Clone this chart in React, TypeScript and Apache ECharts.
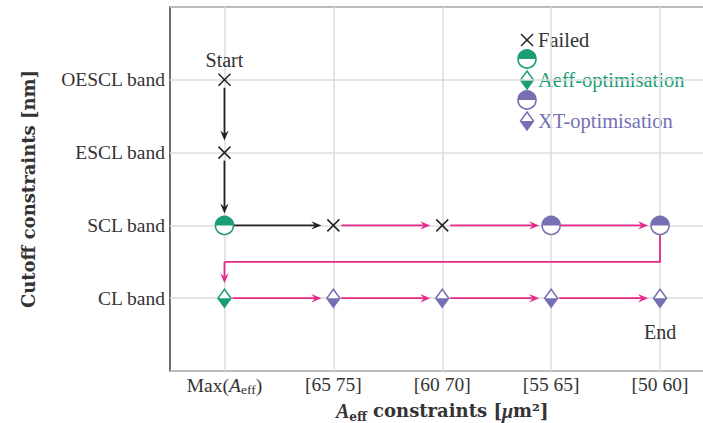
import React, { useEffect, useRef } from "react";
import * as echarts from "echarts";

// ---------- data ----------
const xCategories = ["{n|Max(}{i|A}{s|eff}{n|)}", "[65 75]", "[60 70]", "[55 65]", "[50 60]"];
const xPositions = [0, 1, 2, 3, 4];
const yBands = ["CL band", "SCL band", "ESCL band", "OESCL band"];
const yPositions = [1, 2, 3, 4];

const failedPoints = [[0, 4], [0, 3], [1, 2], [2, 2]];
const aeffCircles = [[0, 2]];
const aeffDiamonds = [[0, 1]];
const xtCircles = [[3, 2], [4, 2]];
const xtDiamonds = [[1, 1], [2, 1], [3, 1], [4, 1]];

const blackArrows = [[0, 4, 0, 3], [0, 3, 0, 2], [0, 2, 1, 2]];
const pinkArrows = [
  [1, 2, 2, 2], [2, 2, 3, 2], [3, 2, 4, 2],
  [0, 1, 1, 1], [1, 1, 2, 1], [2, 1, 3, 1], [3, 1, 4, 1],
];
const pinkReturnPath = [[4, 2], [4, 1.5], [0, 1.5], [0, 1]];

const annotations = [[0, 4, "Start"], [4, 1, "End"]];

const legendItems = ["Failed", "Aeff-optimisation", "XT-optimisation"];

// ---------- styles ----------
const GREEN = "#1b9e77";
const PURPLE = "#7570b3";
const PINK = "#e7298a";
const BLACK = "#222222";
const TEXT = "#333333";
const FONT = "'Liberation Serif', serif";
const NAME_FONT = "'DejaVu Serif', serif";
const FS = 19.5;

function arrowShape(p1: number[], p2: number[], startGap: number, endGap: number, color: string) {
  const dx = p2[0] - p1[0];
  const dy = p2[1] - p1[1];
  const len = Math.sqrt(dx * dx + dy * dy) || 1;
  const ux = dx / len, uy = dy / len;
  const nx = -uy, ny = ux;
  const s = [p1[0] + ux * startGap, p1[1] + uy * startGap];
  const t = [p2[0] - ux * endGap, p2[1] - uy * endGap];
  const L = 10, W = 4.2, notch = 6.5;
  return [
    {
      type: "line",
      shape: { x1: s[0], y1: s[1], x2: t[0] - ux * notch, y2: t[1] - uy * notch },
      style: { stroke: color, lineWidth: 1.8 },
    },
    {
      type: "polygon",
      shape: {
        points: [
          [t[0], t[1]],
          [t[0] - ux * L + nx * W, t[1] - uy * L + ny * W],
          [t[0] - ux * notch, t[1] - uy * notch],
          [t[0] - ux * L - nx * W, t[1] - uy * L - ny * W],
        ],
      },
      style: { fill: color },
    },
  ];
}

function halfCircle(cx: number, cy: number, color: string) {
  const r = 9;
  return [
    { type: "circle", shape: { cx, cy, r }, style: { fill: "#ffffff" } },
    { type: "sector", shape: { cx, cy, r0: 0, r, startAngle: Math.PI, endAngle: Math.PI * 2, clockwise: true }, style: { fill: color } },
    { type: "circle", shape: { cx, cy, r }, style: { fill: "none", stroke: color, lineWidth: 1.6 } },
  ];
}

function diamond(cx: number, cy: number, color: string) {
  const w = 6.5, h = 9;
  return [
    { type: "polygon", shape: { points: [[cx, cy - h], [cx + w, cy], [cx, cy + h], [cx - w, cy]] }, style: { fill: "#ffffff" } },
    { type: "polygon", shape: { points: [[cx - w, cy], [cx + w, cy], [cx, cy + h]] }, style: { fill: color } },
    { type: "polygon", shape: { points: [[cx, cy - h], [cx + w, cy], [cx, cy + h], [cx - w, cy]] }, style: { fill: "none", stroke: color, lineWidth: 1.5 } },
  ];
}

function cross(cx: number, cy: number, color: string) {
  const a = 6;
  return [
    { type: "line", shape: { x1: cx - a, y1: cy - a, x2: cx + a, y2: cy + a }, style: { stroke: color, lineWidth: 1.5 } },
    { type: "line", shape: { x1: cx - a, y1: cy + a, x2: cx + a, y2: cy - a }, style: { stroke: color, lineWidth: 1.5 } },
  ];
}

function markerSeries(data: number[][], kind: string, color: string) {
  return {
    type: "custom",
    coordinateSystem: "cartesian2d",
    data,
    z: 5,
    renderItem: (params: any, api: any) => {
      const p = api.coord([api.value(0), api.value(1)]);
      let children: any[];
      if (kind === "circle") children = halfCircle(p[0], p[1], color);
      else if (kind === "diamond") children = diamond(p[0], p[1], color);
      else children = cross(p[0], p[1], color);
      return { type: "group", children };
    },
  };
}

function arrowSeries(data: number[][], color: string) {
  return {
    type: "custom",
    coordinateSystem: "cartesian2d",
    data,
    z: 3,
    renderItem: (params: any, api: any) => {
      const p1 = api.coord([api.value(0), api.value(1)]);
      const p2 = api.coord([api.value(2), api.value(3)]);
      return { type: "group", children: arrowShape(p1, p2, 8, 12, color) };
    },
  };
}

export default function App() {
  const ref = useRef<HTMLDivElement>(null);
  useEffect(() => {
    if (!ref.current) return;
    const chart = echarts.init(ref.current, null, { renderer: "svg" });

    const legendX = 527;
    const legendTextX = 538;
    const legendYs = [40, 59, 80, 100, 121];
    const LFS = 20.5;

    const option: any = {
      animation: false,
      backgroundColor: "#ffffff",
      grid: {
        left: 170,
        top: 7,
        bottom: 52,
        right: -11.5,
        outerBoundsMode: "none",
        containLabel: false,
        show: true,
        borderColor: BLACK,
        borderWidth: 1.3,
        backgroundColor: "transparent",
      },
      xAxis: {
        type: "value",
        min: -0.5,
        max: 4.5,
        name: "{i|A}{s|eff}{b| constraints [}{i|μ}{b|m²]}",
        nameLocation: "middle",
        nameGap: 27,
        nameTextStyle: {
          fontFamily: NAME_FONT,
          fontSize: 18,
          fontWeight: "bold",
          color: TEXT,
          rich: {
            b: { fontFamily: NAME_FONT, fontSize: 18, fontWeight: "bold", color: TEXT, lineHeight: 24 },
            i: { fontFamily: FONT, fontSize: 20, fontStyle: "italic", color: TEXT, lineHeight: 24 },
            s: { fontFamily: NAME_FONT, fontSize: 12, fontWeight: "bold", color: TEXT, verticalAlign: "bottom", lineHeight: 12 },
          },
        },
        axisLine: { show: false },
        axisTick: { show: false, customValues: xPositions },
        axisLabel: {
          customValues: xPositions,
          margin: 3,
          fontFamily: FONT,
          fontSize: FS,
          color: TEXT,
          formatter: (v: number) => {
            const i = xPositions.indexOf(Math.round(v));
            return i >= 0 ? xCategories[i] : "";
          },
          rich: {
            n: { fontFamily: FONT, fontSize: FS, color: TEXT, lineHeight: 22 },
            i: { fontFamily: FONT, fontSize: FS, fontStyle: "italic", color: TEXT, lineHeight: 22 },
            s: { fontFamily: FONT, fontSize: 13.5, color: TEXT, verticalAlign: "bottom", lineHeight: 14 },
          },
        },
        splitLine: { show: true, lineStyle: { color: "#dddddd", width: 1.5 } },
      },
      yAxis: {
        type: "value",
        min: 0,
        max: 5,
        interval: 1,
        name: "Cutoff constraints [nm]",
        nameLocation: "middle",
        nameGap: 133,
        nameTextStyle: { fontFamily: NAME_FONT, fontSize: 18, fontWeight: "bold", color: TEXT },
        axisLine: { show: false },
        axisTick: { show: false },
        axisLabel: {
          margin: 5,
          fontFamily: FONT,
          fontSize: FS,
          color: TEXT,
          formatter: (v: number) => {
            const i = yPositions.indexOf(Math.round(v));
            return i >= 0 ? yBands[i] : "";
          },
        },
        splitLine: { show: true, lineStyle: { color: "#dddddd", width: 1.5 } },
      },
      graphic: [
        { type: "group", children: cross(legendX, legendYs[0], BLACK) },
        { type: "text", x: legendTextX, y: legendYs[0], style: { text: legendItems[0], fill: TEXT, fontFamily: FONT, fontSize: LFS, verticalAlign: "middle" } },
        { type: "group", children: halfCircle(legendX, legendYs[1], GREEN) },
        { type: "group", children: diamond(legendX, legendYs[2], GREEN) },
        { type: "text", x: legendTextX, y: legendYs[2], style: { text: legendItems[1], fill: GREEN, fontFamily: FONT, fontSize: LFS, verticalAlign: "middle" } },
        { type: "group", children: halfCircle(legendX, legendYs[3], PURPLE) },
        { type: "group", children: diamond(legendX, legendYs[4], PURPLE) },
        { type: "text", x: legendTextX, y: legendYs[4], style: { text: legendItems[2], fill: PURPLE, fontFamily: FONT, fontSize: LFS, verticalAlign: "middle" } },
      ],
      series: [
        arrowSeries(blackArrows, BLACK),
        arrowSeries(pinkArrows, PINK),
        {
          type: "custom",
          coordinateSystem: "cartesian2d",
          data: [pinkReturnPath[0]],
          z: 3,
          renderItem: (params: any, api: any) => {
            const pts = pinkReturnPath.map((p) => api.coord(p));
            const first = [pts[0][0], pts[0][1] + 9];
            const n = pts.length;
            const children: any[] = [
              {
                type: "polyline",
                shape: { points: [first, ...pts.slice(1, n - 1), pts[n - 2]] },
                style: { stroke: PINK, lineWidth: 1.8, fill: "none" },
              },
              ...arrowShape(pts[n - 2], pts[n - 1], 0, 15, PINK),
            ];
            return { type: "group", children };
          },
        },
        markerSeries(failedPoints, "cross", BLACK),
        markerSeries(aeffCircles, "circle", GREEN),
        markerSeries(aeffDiamonds, "diamond", GREEN),
        markerSeries(xtCircles, "circle", PURPLE),
        markerSeries(xtDiamonds, "diamond", PURPLE),
        {
          type: "custom",
          coordinateSystem: "cartesian2d",
          data: annotations,
          z: 6,
          renderItem: (params: any, api: any) => {
            const item = annotations[params.dataIndex];
            const p = api.coord([item[0], item[1]]);
            const above = params.dataIndex === 0;
            return {
              type: "text",
              x: p[0],
              y: p[1] + (above ? -20 : 34),
              style: {
                text: String(item[2]),
                fill: TEXT,
                fontFamily: FONT,
                fontSize: 20,
                align: "center",
                verticalAlign: "middle",
              },
            };
          },
        },
      ],
    };
    chart.setOption(option);
    return () => chart.dispose();
  }, []);
  return <div ref={ref} style={{ width: 703, height: 423, position: "absolute", left: 0, top: 0 }} />;
}
